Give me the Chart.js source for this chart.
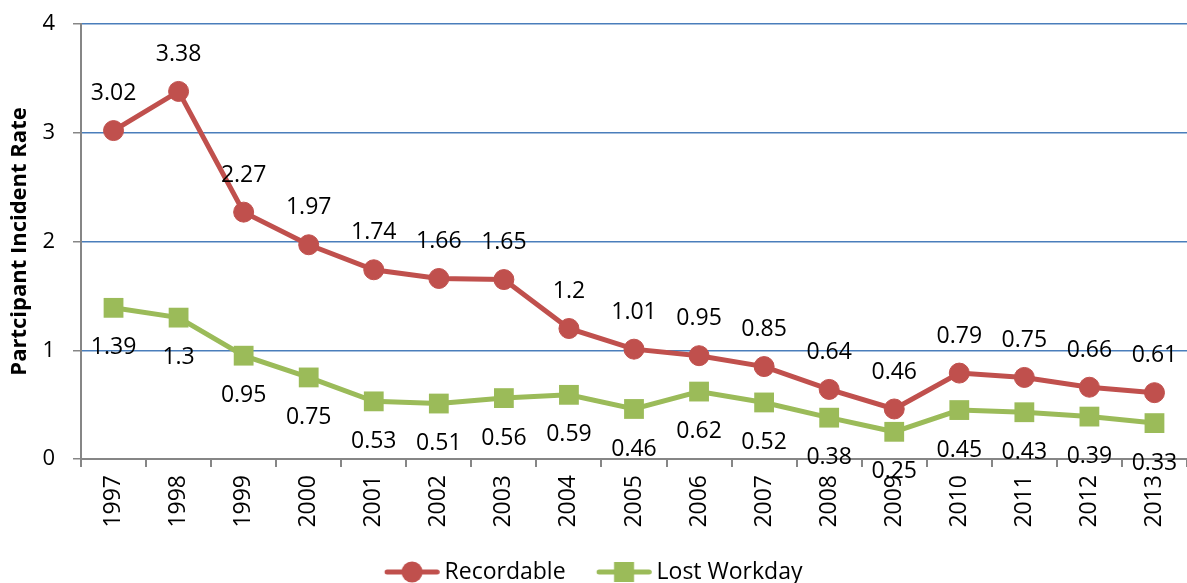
<!DOCTYPE html>
<html><head><meta charset="utf-8">
<script src="https://cdn.jsdelivr.net/npm/chart.js@4"></script>
<style>html,body{margin:0;padding:0;background:#fff;overflow:hidden;}#wrap{width:1187px;height:583px;}canvas{display:block;}</style>
</head><body><div id="wrap"><canvas id="c" width="1187" height="583"></canvas></div>
<script>
const years = ['1997','1998','1999','2000','2001','2002','2003','2004','2005','2006','2007','2008','2009','2010','2011','2012','2013'];
const recordable = [3.02,3.38,2.27,1.97,1.74,1.66,1.65,1.2,1.01,0.95,0.85,0.64,0.46,0.79,0.75,0.66,0.61];
const lostWorkday = [1.39,1.3,0.95,0.75,0.53,0.51,0.56,0.59,0.46,0.62,0.52,0.38,0.25,0.45,0.43,0.39,0.33];
const yTicks = [0,1,2,3,4];

const RED = '#c0504d', GREEN = '#9bbb59';
const FONT = "'Open Sans', sans-serif";

function legendIcon(color, shape){
  const c = document.createElement('canvas'); c.width = 62; c.height = 22;
  const g = c.getContext('2d');
  g.strokeStyle = color; g.lineWidth = 5; g.lineCap='round';
  g.beginPath(); g.moveTo(9.25,11); g.lineTo(59.25,11); g.stroke();
  g.fillStyle = color;
  if(shape==='circle'){ g.beginPath(); g.arc(34.25,11,10.5,0,Math.PI*2); g.fill(); }
  else { g.fillRect(24.25,1,20,20); }
  return c;
}
const icons = [legendIcon(RED,'circle'), legendIcon(GREEN,'rect')];

const labelPlugin = {
  id:'vlabels',
  afterDatasetsDraw(chart){
    const ctx = chart.ctx;
    ctx.save();
    ctx.font = "23px " + FONT;
    ctx.fillStyle = '#000';
    ctx.textAlign='center'; ctx.textBaseline='middle';
    chart.data.datasets.forEach((ds,i)=>{
      const meta = chart.getDatasetMeta(i);
      meta.data.forEach((pt,j)=>{
        const off = i===0 ? -37 : 40;
        ctx.fillText(String(ds.data[j]), pt.x, pt.y+off);
      });
    });
    ctx.restore();
  }
};

new Chart(document.getElementById('c'), {
  type:'line',
  data:{
    labels: years,
    datasets:[
      {label:'Recordable', data: recordable, borderColor:RED, backgroundColor:RED, borderWidth:5,
       pointStyle:'circle', pointRadius:10, pointHoverRadius:10, pointBorderWidth:1, pointBackgroundColor:RED, pointBorderColor:RED, tension:0},
      {label:'Lost Workday', data: lostWorkday, borderColor:GREEN, backgroundColor:GREEN, borderWidth:5,
       pointStyle:'rect', pointRadius:14, pointHoverRadius:14, pointBorderWidth:0, pointBackgroundColor:GREEN, pointBorderColor:GREEN, tension:0}
    ]
  },
  options:{
    responsive:false, animation:false,
    layout:{autoPadding:false, padding:{left:0,right:0,top:24,bottom:-10.5}},
    plugins:{
      tooltip:{enabled:false},
      legend:{
        position:'bottom',
        labels:{
          usePointStyle:true, pointStyleWidth:48.5, boxHeight:22,
          font:{family:FONT,size:23}, color:'#000', padding:31,
          generateLabels(chart){
            return chart.data.datasets.map((ds,i)=>({text:ds.label, pointStyle:icons[i], fillStyle:ds.borderColor, strokeStyle:ds.borderColor, lineWidth:0, datasetIndex:i, fontColor:'#000'}));
          }
        }
      }
    },
    scales:{
      x:{
        offset:true,
        afterFit(axis){ axis.paddingRight = 0; axis.paddingLeft = 0; axis.height = 70.5; },
        grid:{display:true, offset:true, drawOnChartArea:false, drawTicks:true, tickLength:8, color:'#868686', lineWidth:2},
        border:{color:'#868686', width:2},
        ticks:{font:{family:FONT,size:23}, color:'#000', maxRotation:90, minRotation:90, autoSkip:false, padding:8}
      },
      y:{
        min:0, max:4,
        afterBuildTicks(axis){ axis.ticks = yTicks.map(v=>({value:v})); },
        afterFit(axis){ axis.paddingTop = 0; axis.paddingBottom = 0; axis.width = 81; },
        grid:{color:'#4a7ebb', lineWidth:1.5, tickLength:8, tickColor:'#868686'},
        border:{color:'#868686', width:2},
        ticks:{font:{family:FONT,size:22}, color:'#000', padding:18},
        title:{display:true, text:'Partcipant Incident Rate', font:{family:FONT,size:22,weight:'bold'}, color:'#000', padding:{top:7,bottom:0}}
      }
    }
  },
  plugins:[labelPlugin]
});
</script></body></html>
